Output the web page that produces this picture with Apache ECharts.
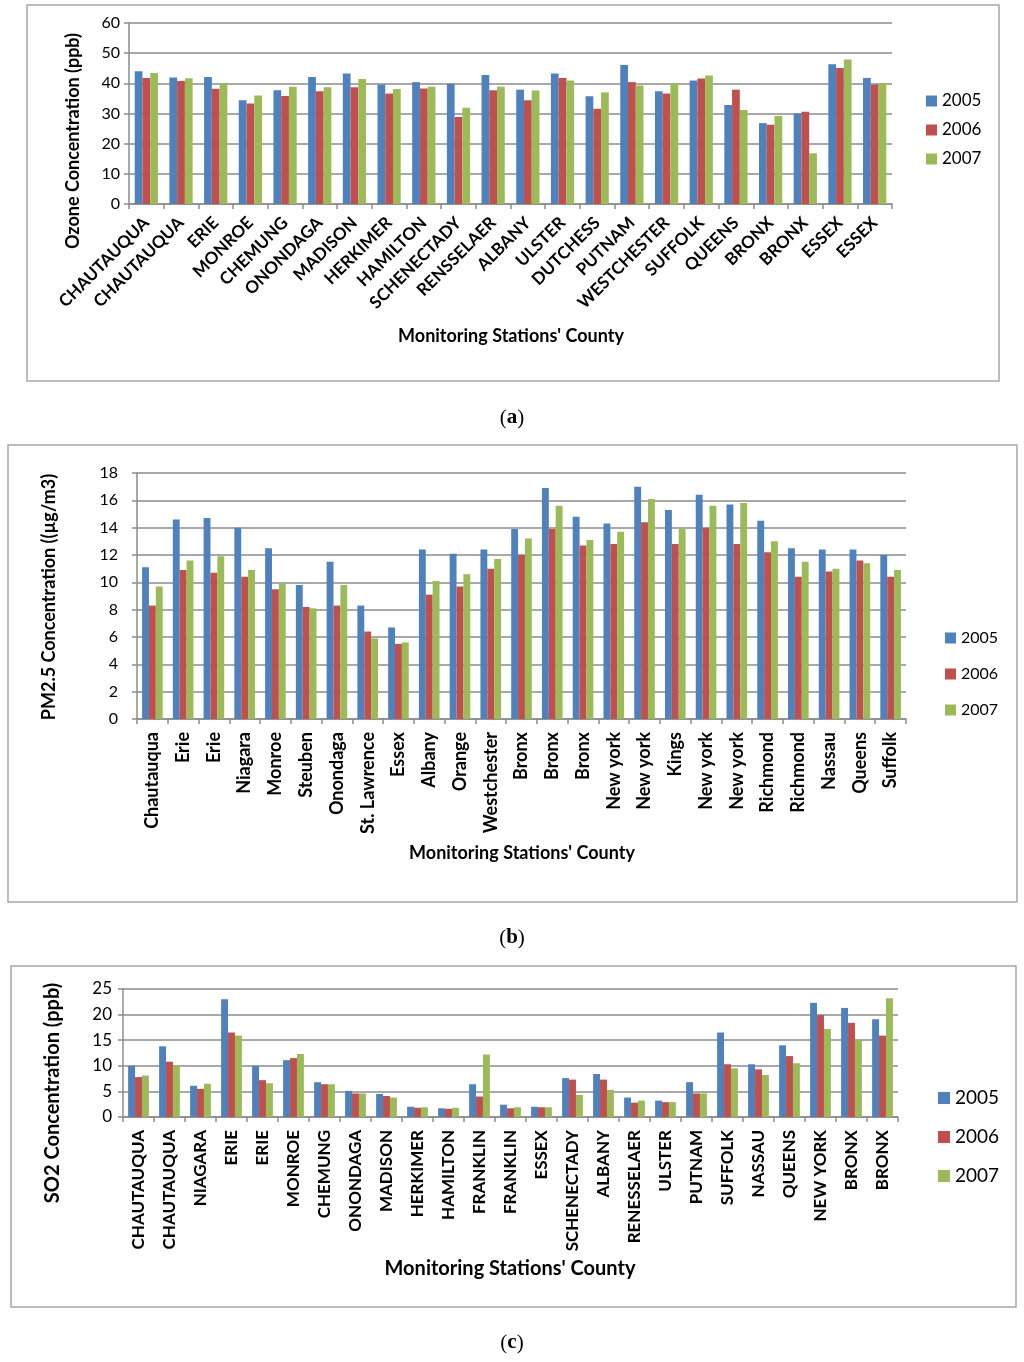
<!DOCTYPE html>
<html><head><meta charset="utf-8">
<script src="https://cdn.jsdelivr.net/npm/echarts@6/dist/echarts.min.js"></script>
<style>html,body{margin:0;padding:0;background:#fff}#c{width:1024px;height:1362px}</style>
</head><body><div id="c"></div>
<script>
var years = ['2005','2006','2007'];
var colors = ['#4F81BD','#C0504D','#9BBB59'];

var ozoneCats = ['CHAUTAUQUA','CHAUTAUQUA','ERIE','MONROE','CHEMUNG','ONONDAGA','MADISON','HERKIMER','HAMILTON','SCHENECTADY','RENSSELAER','ALBANY','ULSTER','DUTCHESS','PUTNAM','WESTCHESTER','SUFFOLK','QUEENS','BRONX','BRONX','ESSEX','ESSEX'];
var ozone2005 = [44.0,41.9,42.1,34.4,37.7,42.1,43.3,39.6,40.4,39.9,42.8,37.9,43.3,35.7,46.1,37.4,40.9,32.8,26.8,30.0,46.3,41.8];
var ozone2006 = [41.8,40.8,38.2,33.3,35.8,37.4,38.7,36.6,38.3,28.8,37.7,34.4,41.8,31.6,40.4,36.6,41.6,37.9,26.3,30.6,45.1,39.6];
var ozone2007 = [43.4,41.7,40.1,36.0,38.9,38.7,41.4,38.1,38.9,31.9,38.9,37.6,40.9,37.0,39.3,40.1,42.6,31.2,29.2,16.8,47.9,40.1];
var ozoneTicks = [0,60,10];

var pmCats = ['Chautauqua','Erie','Erie','Niagara','Monroe','Steuben','Onondaga','St. Lawrence','Essex','Albany','Orange','Westchester','Bronx','Bronx','Bronx','New york','New york','Kings','New york','New york','Richmond','Richmond','Nassau','Queens','Suffolk'];
var pm2005 = [11.1,14.6,14.7,14.0,12.5,9.8,11.5,8.3,6.7,12.4,12.1,12.4,13.9,16.9,14.8,14.3,17.0,15.3,16.4,15.7,14.5,12.5,12.4,12.4,12.0];
var pm2006 = [8.3,10.9,10.7,10.4,9.5,8.2,8.3,6.4,5.5,9.1,9.7,11.0,12.0,13.9,12.7,12.8,14.4,12.8,14.0,12.8,12.2,10.4,10.8,11.6,10.4];
var pm2007 = [9.7,11.6,11.9,10.9,9.9,8.1,9.8,5.9,5.6,10.1,10.6,11.7,13.2,15.6,13.1,13.7,16.1,13.9,15.6,15.8,13.0,11.5,11.0,11.4,10.9];
var pmTicks = [0,18,2];

var so2Cats = ['CHAUTAUQUA','CHAUTAUQUA','NIAGARA','ERIE','ERIE','MONROE','CHEMUNG','ONONDAGA','MADISON','HERKIMER','HAMILTON','FRANKLIN','FRANKLIN','ESSEX','SCHENECTADY','ALBANY','RENESSELAER','ULSTER','PUTNAM','SUFFOLK','NASSAU','QUEENS','NEW YORK','BRONX','BRONX'];
var so2_2005 = [10.0,13.8,6.1,23.0,10.0,11.1,6.8,5.1,4.5,2.0,1.7,6.4,2.4,2.0,7.6,8.4,3.8,3.2,6.8,16.5,10.3,14.0,22.3,21.3,19.1];
var so2_2006 = [7.8,10.8,5.5,16.5,7.2,11.5,6.4,4.6,4.1,1.8,1.6,4.0,1.7,1.9,7.3,7.3,2.8,2.9,4.6,10.3,9.3,11.9,19.9,18.4,15.9];
var so2_2007 = [8.1,10.1,6.5,15.9,6.6,12.3,6.4,4.6,3.8,1.9,1.8,12.2,1.9,1.9,4.3,5.3,3.2,2.9,4.6,9.5,8.2,10.5,17.2,15.1,23.2];
var so2Ticks = [0,25,5];

var yTitles = ['Ozone Concentration (ppb)','PM2.5 Concentration ((\u00b5g/m3)','SO2 Concentration (ppb)'];
var xTitle = "Monitoring Stations' County";
var captions = ['a','b','c'];

var FF = 'Lato';
var gridColor = '#8c8c8c';

var panels = [
  {cats: ozoneCats, vals: [ozone2005, ozone2006, ozone2007], ticks: ozoneTicks,
   grid: {left:129, top:23, width:763, height:181},
   tickFont:16, labMargin:9, catFont:17, catRotate:45, catMargin:16,
   legend:{left:921, top:87, fs:17, lh:18, gap:11, iw:11},
   yT:{x:73, y:141, fs:18}, xT:{x:511, y:336, fs:18}, cap:{y:418},
   box:{x:27,y:5,w:972,h:376}},
  {cats: pmCats, vals: [pm2005, pm2006, pm2007], ticks: pmTicks,
   grid: {left:137, top:473, width:769, height:246},
   tickFont:16, labMargin:19, catFont:18, catRotate:90, catMargin:13,
   legend:{left:940, top:625, fs:16, lh:16, gap:20, iw:11},
   yT:{x:49, y:597, fs:18}, xT:{x:522, y:853, fs:18}, cap:{y:938},
   box:{x:8,y:445,w:1009,h:457}},
  {cats: so2Cats, vals: [so2_2005, so2_2006, so2_2007], ticks: so2Ticks,
   grid: {left:123, top:989, width:775, height:128},
   tickFont:17, labMargin:11, catFont:17, catRotate:90, catMargin:13,
   legend:{left:933, top:1083, fs:19, lh:20, gap:19, iw:12},
   yT:{x:53, y:1093, fs:20}, xT:{x:510, y:1269, fs:20}, cap:{y:1343},
   box:{x:11,y:966,w:1005,h:341}}
];

var option = {animation:false, backgroundColor:'#fff', grid:[], xAxis:[], yAxis:[], legend:[], series:[], graphic:[]};

panels.forEach(function(p, i){
  option.grid.push(p.grid);
  option.xAxis.push({
    type:'category', gridIndex:i, data:p.cats,
    axisLine:{show:true, lineStyle:{color:gridColor, width:1.5}},
    axisTick:{show:true, length:5, lineStyle:{color:gridColor, width:1.5}},
    axisLabel:{interval:0, rotate:p.catRotate, margin:p.catMargin, fontFamily:FF, fontWeight:'bold', fontSize:p.catFont, color:'#000'},
    splitLine:{show:false}
  });
  option.yAxis.push({
    type:'value', gridIndex:i, min:p.ticks[0], max:p.ticks[1], interval:p.ticks[2],
    axisLine:{show:true, lineStyle:{color:gridColor, width:1.5}},
    axisTick:{show:true, length:5, lineStyle:{color:gridColor, width:1.5}},
    axisLabel:{margin:p.labMargin, fontFamily:FF, fontSize:p.tickFont, color:'#000'},
    splitLine:{show:true, lineStyle:{color:gridColor, width:1.5}}
  });
  option.legend.push({
    orient:'vertical', left:p.legend.left, top:p.legend.top, data:years.slice(),
    icon:'rect', itemWidth:p.legend.iw, itemHeight:p.legend.iw, itemGap:p.legend.gap,
    selectedMode:false,
    textStyle:{fontFamily:FF, fontSize:p.legend.fs, lineHeight:p.legend.lh, color:'#000', padding:[0,0,0,0]}
  });
  years.forEach(function(y, k){
    option.series.push({
      type:'bar', name:y, xAxisIndex:i, yAxisIndex:i, data:p.vals[k],
      barGap:'0%', barCategoryGap:'33%',
      itemStyle:{color:colors[k]}
    });
  });
  option.graphic.push({type:'rect', silent:true, shape:{x:p.box.x, y:p.box.y, width:p.box.w, height:p.box.h},
    style:{fill:'none', stroke:'#a6a6a6', lineWidth:1.5}});
  option.graphic.push({type:'text', silent:true, x:p.yT.x, y:p.yT.y, rotation:Math.PI/2,
    style:{text:yTitles[i], fontFamily:FF, fontWeight:'bold', fontSize:p.yT.fs, fill:'#000', align:'center', verticalAlign:'middle'}});
  option.graphic.push({type:'text', silent:true, x:p.xT.x, y:p.xT.y,
    style:{text:xTitle, fontFamily:FF, fontWeight:'bold', fontSize:p.xT.fs, fill:'#000', align:'center', verticalAlign:'middle'}});
  option.graphic.push({type:'text', silent:true, x:512, y:p.cap.y,
    style:{text:'{p|(}{b|' + captions[i] + '}{p|)}', align:'center', verticalAlign:'middle',
      rich:{p:{fontFamily:'Liberation Serif', fontSize:21, fill:'#000'}, b:{fontFamily:'Liberation Serif', fontWeight:'bold', fontSize:21, fill:'#000'}}}});
});

var chart = echarts.init(document.getElementById('c'), null, {renderer:'canvas', width:1024, height:1362});
chart.setOption(option);
</script>
</body></html>
